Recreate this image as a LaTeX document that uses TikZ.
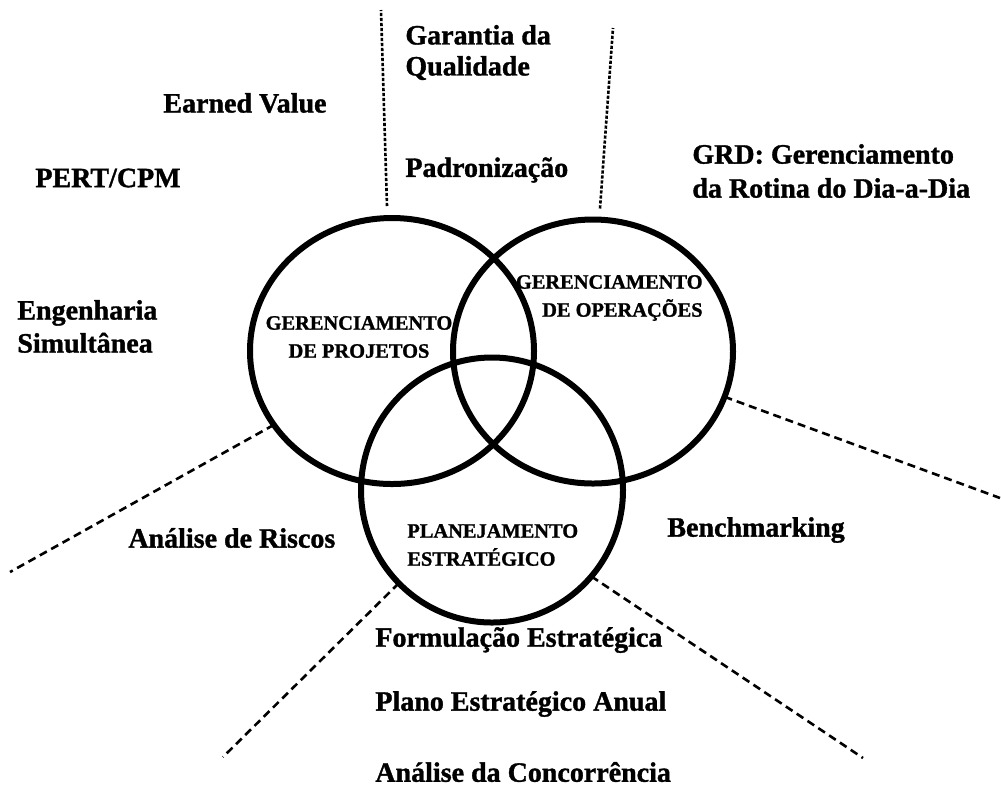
\documentclass[tikz,border=0pt]{standalone}
\usepackage{fontspec}
\setmainfont{Liberation Serif}[BoldFeatures={FakeBold=1.2}]
\usetikzlibrary{shapes.geometric}
\begin{document}
\begin{tikzpicture}[x=0.5pt,y=-0.5pt,
  ring/.style={ellipse,draw,line width=3pt,inner sep=0pt,outer sep=0pt},
  topic/.style={anchor=west,align=left,inner sep=0pt,font=\fontsize{14}{15.5}\selectfont\bfseries},
  area/.style={inner sep=0pt,font=\fontsize{10.2}{14}\selectfont\bfseries},
  ray/.style={line width=1.3pt,dash pattern=on 4pt off 2.5pt},
  tick/.style={line width=1.3pt,dash pattern=on 1.6pt off 0.9pt}]
\fill[white] (0,0) rectangle (1001,811);
\useasboundingbox (0,0) rectangle (1001,811);

% the three overlapping areas
\node[ring,minimum width=142pt,minimum height=133pt] (L) at (392,351) {};
\node[ring,minimum width=140pt,minimum height=132pt] (R) at (593,351.5) {};
\node[ring,minimum width=131pt,minimum height=132.5pt] (B) at (492,490) {};

\node[area,align=center] (gp) at (359,337) {GERENCIAMENTO\\DE PROJETOS};
\node[area,align=right,anchor=east] (go) at (703,298) {GERENCIAMENTO\\DE OPERAÇÕES};
\node[area,align=left,anchor=west] (pl) at (407,545) {PLANEJAMENTO\\ESTRATÉGICO};

% free ends of the separating lines
\coordinate (tl) at (381,10);
\coordinate (tr) at (613,28);
\coordinate (ll) at (10,572);
\coordinate (rr) at (1000,498);
\coordinate (bl) at (223,757);
\coordinate (br) at (863,758);

\draw[tick] ([shift={(-5,-12)}]L.north) -- (tl);
\draw[tick] ([shift={(7,-11)}]R.north) -- (tr);
\draw[ray] (L.212) -- (ll);
\draw[ray] (R.341) -- (rr);
\draw[ray] (B.225) -- (bl);
\draw[ray] (B.319) -- (br);

% tools around the areas
\node[topic] (gq) at (405,52.5) {Garantia da\\Qualidade};
\node[topic] (pad) at (405,170) {Padronização};
\node[topic] (ev) at (163,103) {Earned Value};
\node[topic] (pert) at (35,178) {PERT/CPM};
\node[topic,font=\fontsize{14}{17}\selectfont\bfseries] (grd) at (692,171) {GRD: Gerenciamento\\da Rotina do Dia-a-Dia};
\node[topic,font=\fontsize{14}{16.5}\selectfont\bfseries] (eng) at (17,326.5) {Engenharia\\Simultânea};
\node[topic] (ar) at (128,538) {Análise de Riscos};
\node[topic] (bm) at (667,530) {Benchmarking};
\node[topic] (fe) at (375,640) {Formulação Estratégica};
\node[topic] (pe) at (375,704) {Plano Estratégico Anual};
\node[topic] (ac) at (375,772) {Análise da Concorrência};
\end{tikzpicture}
\end{document}
